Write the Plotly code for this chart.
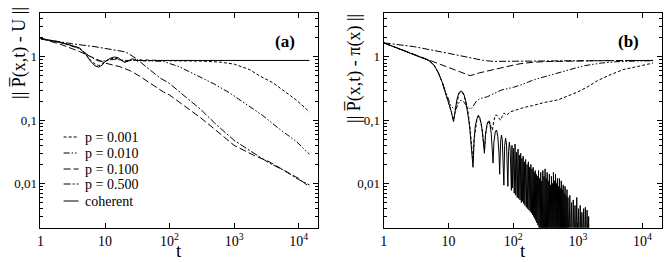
import numpy as np
import plotly.graph_objects as go

# ---------------- data: panel (a) ----------------
a_coh_t = [1, 2, 3, 4, 5, 6, 7, 8, 9, 10, 12, 14, 16, 18, 20, 23, 26, 29, 32, 36, 40, 45, 50, 56, 63, 100, 1000, 14700]
a_coh_v = [1.95, 1.7, 1.52, 1.39, 1.1, 0.85, 0.72, 0.69, 0.74, 0.84, 0.95, 1.0, 0.97, 0.88, 0.82, 0.86, 0.93, 0.92, 0.86, 0.9, 0.87, 0.9, 0.87, 0.89, 0.88, 0.88, 0.88, 0.88]

a_p001_t = [1, 2, 3, 4, 5, 6, 7, 8, 9, 10, 12, 14, 16, 18, 20, 23, 26, 30, 35, 40, 50, 100, 300, 600, 1000, 1740, 2500, 4000, 6000, 9100, 14700]
a_p001_v = [1.95, 1.7, 1.52, 1.39, 1.12, 0.88, 0.77, 0.73, 0.77, 0.85, 0.93, 0.96, 0.93, 0.87, 0.84, 0.86, 0.9, 0.88, 0.89, 0.87, 0.88, 0.87, 0.86, 0.83, 0.77, 0.63, 0.5, 0.39, 0.29, 0.21, 0.135]

a_p010_t = [1, 2, 4, 6, 8, 10, 14, 20, 30, 50, 80, 141, 262, 500, 853, 1500, 2790, 5000, 9000, 14700]
a_p010_v = [1.95, 1.72, 1.35, 1.0, 0.86, 0.87, 0.92, 0.88, 0.88, 0.87, 0.85, 0.7, 0.52, 0.37, 0.27, 0.18, 0.118, 0.073, 0.047, 0.029]

a_p100_t = [1, 2, 4, 7, 10, 17, 25, 34, 50, 80, 100, 141, 200, 300, 500, 1000, 2000, 3500, 6000, 10000, 14700]
a_p100_v = [1.95, 1.6, 1.22, 0.95, 0.8, 0.7, 0.6, 0.5, 0.38, 0.28, 0.25, 0.195, 0.15, 0.11, 0.072, 0.04, 0.028, 0.022, 0.016, 0.012, 0.0088]

a_p500_t = [1, 3, 7, 14, 21, 30, 43, 70, 100, 141, 200, 300, 500, 1000, 2000, 3500, 6000, 10000, 14700]
a_p500_v = [1.95, 1.62, 1.45, 1.3, 1.2, 0.95, 0.71, 0.47, 0.38, 0.28, 0.21, 0.15, 0.09, 0.048, 0.03, 0.021, 0.016, 0.0115, 0.0095]

# ---------------- data: panel (b) ----------------
b_coh_t = [1, 2, 3, 4, 5, 6, 7, 8, 9, 10, 11, 12,
           12.7, 13.5, 14.5, 15.5, 16.5, 17.5, 18.5, 19.5, 20.5, 21.5, 22.5, 23.3, 24,
           25, 26, 27.5, 29, 30.5, 32, 33.5, 35, 36,
           37.5, 39.5, 42, 44, 46, 47.5, 49,
           50.5, 53, 55.5, 58, 60.5, 62,
           64, 66, 68, 70, 72,
           74, 76.5, 79, 81.5, 83,
           85, 87.5, 90, 92.5, 94,
           96, 98, 101, 104, 107, 110, 113, 116, 119, 122, 125, 128, 131, 134, 137, 140, 143, 146, 149, 152,
           156, 160, 164, 168, 172, 176, 180, 184, 188, 192, 196, 200, 204, 208, 212, 216, 220, 224, 228, 232,
           237, 242, 247, 252, 257, 262, 267, 272, 277, 282, 288, 294, 300, 306, 312, 318, 324, 330, 336, 342,
           349, 356, 363, 370, 377, 384, 391, 398, 405, 412, 420, 428, 436, 444, 452, 460, 468, 476, 484, 492,
           501, 510, 519, 528, 537, 546, 555, 564, 574, 584, 594, 604, 614, 624, 635, 646, 657, 668, 680, 692, 704,
           730, 752, 775, 800, 825, 850, 877, 905, 933, 962, 992, 1023, 1055, 1088, 1122, 1157, 1193, 1230,
           1268, 1307, 1347, 1390, 1430, 1470, 1500]
b_coh_v = [1.67, 1.28, 1.08, 0.97, 0.88, 0.74, 0.56, 0.4, 0.28, 0.2, 0.14, 0.095,
           0.15, 0.21, 0.27, 0.29, 0.28, 0.25, 0.2, 0.15, 0.105, 0.07, 0.042, 0.026, 0.018,
           0.05, 0.08, 0.105, 0.12, 0.11, 0.09, 0.065, 0.042, 0.03,
           0.06, 0.085, 0.095, 0.085, 0.06, 0.04, 0.021,
           0.045, 0.065, 0.07, 0.055, 0.03, 0.014,
           0.045, 0.058, 0.05, 0.025, 0.0094,
           0.04, 0.052, 0.042, 0.02, 0.009,
           0.032, 0.045, 0.035, 0.015, 0.0078,
           0.04, 0.0085, 0.036, 0.007, 0.042, 0.0065, 0.031, 0.006, 0.035, 0.0058, 0.028, 0.0055, 0.03, 0.005, 0.025, 0.0052, 0.027, 0.0048, 0.022, 0.0045,
           0.024, 0.0042, 0.02, 0.004, 0.022, 0.0038, 0.018, 0.0036, 0.02, 0.0034, 0.017, 0.0032, 0.018, 0.003, 0.015, 0.0028, 0.016, 0.0026, 0.014, 0.0024,
           0.013, 0.0022, 0.016, 0.002, 0.012, 0.0018, 0.015, 0.0016, 0.011, 0.0015, 0.016, 0.0013, 0.013, 0.0012, 0.017, 0.001, 0.012, 0.0011, 0.015, 0.001,
           0.011, 0.0009, 0.014, 0.001, 0.0095, 0.0009, 0.013, 0.0008, 0.01, 0.001, 0.015, 0.0008, 0.011, 0.0009, 0.014, 0.0008, 0.01, 0.0009, 0.012, 0.0008,
           0.009, 0.0008, 0.012, 0.001, 0.0085, 0.0008, 0.011, 0.0009, 0.008, 0.0008, 0.0095, 0.0009, 0.007, 0.0008, 0.009, 0.0009, 0.0065, 0.0008, 0.008, 0.0009, 0.006,
           0.0008, 0.0065, 0.0009, 0.005, 0.0008, 0.0055, 0.001, 0.0045, 0.0008, 0.006, 0.0009, 0.004, 0.0008, 0.0045, 0.001, 0.0035, 0.0008, 0.004,
           0.0009, 0.0042, 0.0008, 0.0038, 0.0009, 0.003, 0.0008]

b_p001_t = [1, 2, 3, 4, 5, 6, 7, 8, 9, 10, 11, 12, 13, 14.5, 15.5, 17, 18.5, 20, 21.5, 23, 24,
            25, 27.5, 29, 31, 33, 35, 36, 38, 40, 42, 44, 46, 48, 50, 53, 56, 60, 64, 68, 72, 76, 80,
            90, 100, 120, 150, 200, 300, 500, 700, 1000, 1440, 2000, 3000, 3700, 5000, 7600, 10000, 14500]
b_p001_v = [1.67, 1.28, 1.08, 0.97, 0.88, 0.74, 0.56, 0.4, 0.28, 0.2, 0.14, 0.1, 0.16, 0.26, 0.28, 0.26, 0.2, 0.14, 0.08, 0.035, 0.022,
            0.05, 0.1, 0.115, 0.1, 0.075, 0.045, 0.035, 0.065, 0.09, 0.1, 0.09, 0.075, 0.07, 0.095, 0.12, 0.12, 0.11, 0.1, 0.115, 0.13, 0.125, 0.12,
            0.135, 0.14, 0.15, 0.16, 0.17, 0.19, 0.21, 0.24, 0.28, 0.34, 0.42, 0.51, 0.56, 0.63, 0.69, 0.74, 0.8]

b_p010_t = [1, 2, 3, 4, 5, 6, 7, 8, 9, 10, 11, 12.8, 14, 15.2, 17, 19, 21.7, 24, 27, 31, 40, 50, 66, 100, 130, 216, 400, 708, 1200, 2310, 4000, 7600, 14500]
b_p010_v = [1.67, 1.28, 1.08, 0.97, 0.88, 0.74, 0.56, 0.4, 0.28, 0.21, 0.165, 0.145, 0.18, 0.205, 0.2, 0.17, 0.148, 0.165, 0.2, 0.22, 0.235, 0.26, 0.3, 0.33, 0.36, 0.44, 0.53, 0.63, 0.72, 0.8, 0.84, 0.86, 0.87]

b_p100_t = [1, 5, 10, 15, 21.7, 30, 45, 63, 100, 128, 216, 400, 700, 2000, 14500]
b_p100_v = [1.67, 0.88, 0.67, 0.58, 0.505, 0.56, 0.62, 0.67, 0.74, 0.78, 0.83, 0.85, 0.86, 0.87, 0.88]

b_p500_t = [1, 3, 10, 20, 35, 50, 100, 300, 1000, 14500]
b_p500_v = [1.67, 1.45, 1.14, 0.98, 0.88, 0.85, 0.85, 0.86, 0.87, 0.88]

x_tickvals = [1, 10, 100, 1000, 10000]
x_ticktext = ["1", "10", "10<sup>2</sup>", "10<sup>3</sup>", "10<sup>4</sup>"]
y_tickvals = [0.01, 0.1, 1]
y_ticktext = ["0,01", "0,1", "1"]
legend_labels = ["p = 0.001", "p = 0.010", "p = 0.100", "p = 0.500", "coherent"]

# ---------------- styles ----------------
DASH = {
    "p001": "3px,2px",
    "p010": "6px,2px,1.5px,2px,1.5px,2px",
    "p100": "7px,3px",
    "p500": "7px,2px,2px,2px",
    "coh": "solid",
}
FONT = "Liberation Serif, Times New Roman, Times, DejaVu Serif, serif"
W, H = 664, 262

fig = go.Figure()

def add(t, v, dash, xa, ya):
    fig.add_trace(go.Scatter(x=t, y=v, mode="lines", xaxis=xa, yaxis=ya,
                             line=dict(color="black", width=1, dash=dash),
                             showlegend=False, hoverinfo="skip"))

add(a_p001_t, a_p001_v, DASH["p001"], "x", "y")
add(a_p010_t, a_p010_v, DASH["p010"], "x", "y")
add(a_p100_t, a_p100_v, DASH["p100"], "x", "y")
add(a_p500_t, a_p500_v, DASH["p500"], "x", "y")
add(a_coh_t, a_coh_v, DASH["coh"], "x", "y")

add(b_p001_t, b_p001_v, DASH["p001"], "x2", "y2")
add(b_p010_t, b_p010_v, DASH["p010"], "x2", "y2")
add(b_p100_t, b_p100_v, DASH["p100"], "x2", "y2")
add(b_p500_t, b_p500_v, DASH["p500"], "x2", "y2")
add(b_coh_t, b_coh_v, DASH["coh"], "x2", "y2")

minor_vals = [k * 10.0 ** e for e in (-3, -2, -1, 0) for k in range(2, 10)]

def xaxis(domain, anchor):
    return dict(type="log", range=[0, np.log10(2.0e4)], domain=domain, anchor=anchor,
                showline=True, linecolor="black", linewidth=1, mirror="ticks",
                ticks="inside", ticklen=5, tickcolor="black", tickwidth=1,
                tickmode="array", tickvals=x_tickvals, ticktext=x_ticktext,
                showgrid=False, zeroline=False,
                tickfont=dict(family=FONT, size=14, color="black"))

def yaxis(anchor):
    return dict(type="log", range=[np.log10(0.002), np.log10(5)], domain=[1 - 227.7 / H, 1 - 12.7 / H],
                anchor=anchor, showline=True, linecolor="black", linewidth=1, mirror="ticks",
                ticks="inside", ticklen=5, tickcolor="black", tickwidth=1,
                tickmode="array", tickvals=y_tickvals, ticktext=y_ticktext,
                minor=dict(ticks="inside", ticklen=3, tickcolor="black", tickmode="array",
                           tickvals=minor_vals, showgrid=False),
                showgrid=False, zeroline=False,
                tickfont=dict(family=FONT, size=13, color="black"))

annotations = []
def ann(x, y, text, size, angle=0, xanchor="center", yanchor="middle"):
    annotations.append(dict(x=x / W, y=1 - y / H, xref="paper", yref="paper", text=text,
                            showarrow=False, textangle=angle, xanchor=xanchor, yanchor=yanchor,
                            font=dict(family=FONT, size=size, color="black")))

ann(15, 53, "|| P\u0305(x,t) - U ||", 18, angle=-90)
ann(352, 68, "|| P\u0305(x,t) - \u03c0(x) ||", 18, angle=-90)
ann(176, 263, "t", 19, yanchor="bottom")
ann(522, 263, "t", 19, yanchor="bottom")
ann(283, 42, "<b>(a)</b>", 17)
ann(628, 42, "<b>(b)</b>", 17)

shapes = []
rows_y = [137, 153, 169, 184, 201]
dashes = [DASH["p001"], DASH["p010"], DASH["p100"], DASH["p500"], DASH["coh"]]
for yy, lab, d in zip(rows_y, legend_labels, dashes):
    shapes.append(dict(type="line", xref="paper", yref="paper", x0=60 / W, x1=75 / W,
                       y0=1 - yy / H, y1=1 - yy / H, line=dict(color="black", width=1, dash=d)))
    ann(79, yy, lab, 14, xanchor="left")

fig.update_layout(
    width=W, height=H, margin=dict(l=0, r=0, t=0, b=0),
    paper_bgcolor="white", plot_bgcolor="white", showlegend=False,
    font=dict(family=FONT, color="black"),
    xaxis=xaxis([36.7 / W, 316 / W], "y"),
    yaxis=yaxis("x"),
    xaxis2=xaxis([382 / W, 662 / W], "y2"),
    yaxis2=yaxis("x2"),
    annotations=annotations, shapes=shapes,
)

fig.write_html("out.html", config={"displayModeBar": False},
               post_script="document.body.style.margin='0px';document.body.style.padding='0px';")
